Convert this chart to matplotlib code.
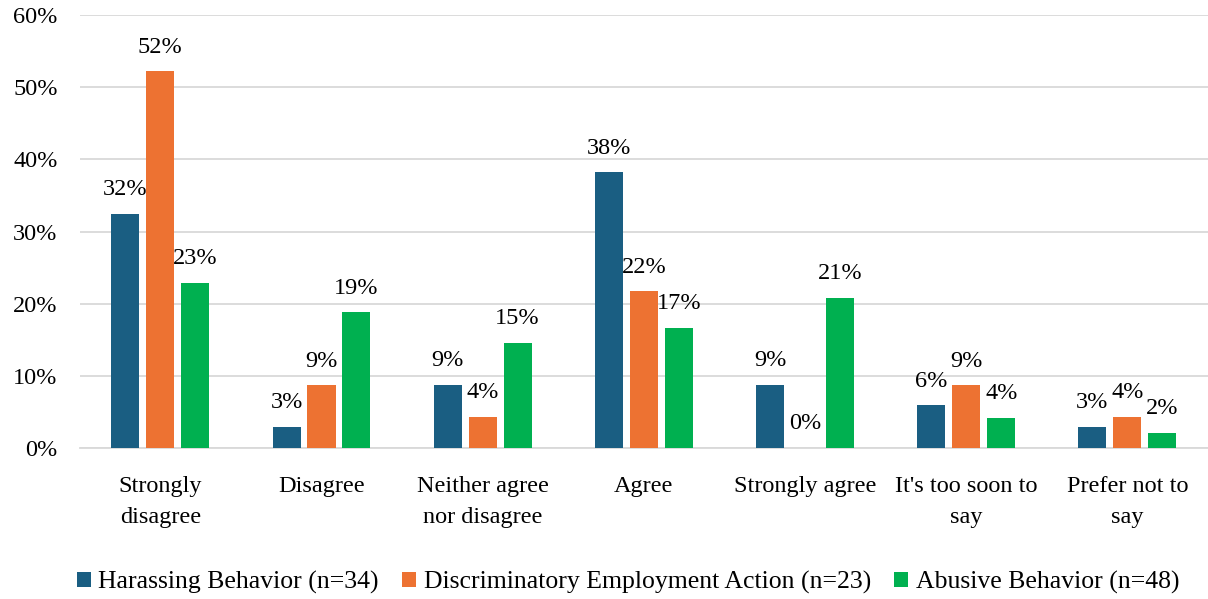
import matplotlib
matplotlib.use("Agg")
import matplotlib.pyplot as plt
import numpy as np

categories = ["Strongly\ndisagree", "Disagree", "Neither agree\nnor disagree", "Agree",
              "Strongly agree", "It's too soon to\nsay", "Prefer not to\nsay"]
harassing = [32.4, 2.9, 8.8, 38.2, 8.8, 5.9, 2.9]
discriminatory = [52.2, 8.7, 4.3, 21.7, 0.0, 8.7, 4.3]
abusive = [22.9, 18.8, 14.6, 16.7, 20.8, 4.2, 2.1]
series_names = ["Harassing Behavior (n=34)", "Discriminatory Employment Action (n=23)",
                "Abusive Behavior (n=48)"]
colors = ["#1a5e82", "#ed7232", "#00b050"]

plt.rcParams["font.family"] = ["Liberation Serif", "DejaVu Serif"]
fs = 17.5

fig = plt.figure(figsize=(12.08, 5.99), dpi=100)
ax = fig.add_axes([0.066, 0.252, 0.934, 0.723])

x = np.arange(len(categories))
width = 0.174
step = 0.217
for i, (vals, name, col) in enumerate(zip([harassing, discriminatory, abusive], series_names, colors)):
    pos = x + (i - 1) * step
    ax.bar(pos, vals, width, color=col, label=name, zorder=3)
    for px, v in zip(pos, vals):
        ax.text(px, v + 1.9, "%d%%" % round(v), ha="center", va="bottom", fontsize=fs)

ax.set_ylim(0, 60)
ax.set_xlim(-0.5, len(categories) - 0.5)
ax.set_yticks(range(0, 61, 10))
ax.set_yticklabels(["%d%%" % t for t in range(0, 61, 10)], fontsize=fs)
ax.set_xticks(x)
ax.set_xticklabels(categories, fontsize=fs, linespacing=1.65)
ax.tick_params(axis="x", length=0, pad=20)
ax.tick_params(axis="y", length=0, pad=16)
ax.yaxis.grid(True, color="#d9d9d9", linewidth=1.3, zorder=0)
for s in ["top", "right", "left"]:
    ax.spines[s].set_visible(False)
ax.spines["bottom"].set_color("#d9d9d9")
ax.spines["bottom"].set_linewidth(1.3)

fig.legend(loc="lower center", bbox_to_anchor=(0.52, -0.03), ncol=3, frameon=False,
           fontsize=18.5, handlelength=0.55, handleheight=0.55, handletextpad=0.3,
           columnspacing=0.9)

fig.savefig("out.png", dpi=100)
